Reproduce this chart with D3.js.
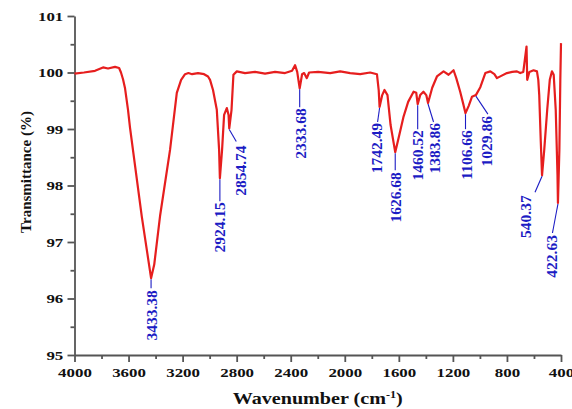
<!DOCTYPE html>
<html>
<head>
<meta charset="utf-8">
<script src="https://cdn.jsdelivr.net/npm/d3@7"></script>
<style>
  html, body { margin: 0; padding: 0; background: #ffffff; }
  svg { display: block; }
</style>
</head>
<body>
<div id="chart"></div>
<script>
// ---- Data ----
const wavenumber = [
  4000, 3930, 3848, 3789, 3752, 3700, 3670, 3656, 3641, 3626, 3604, 3589, 3502, 3456, 3433.38,
  3410, 3367, 3293, 3243, 3211, 3182, 3157, 3130, 3086, 3041, 3012, 2997, 2975, 2947, 2930,
  2924.15, 2908, 2893, 2873, 2860, 2854.74, 2838, 2824, 2799, 2738, 2664, 2590, 2516, 2442,
  2390, 2368, 2352, 2333.68, 2316, 2301, 2281, 2264, 2197, 2108, 2034, 1960, 1886, 1812, 1762,
  1749, 1742.49, 1723, 1706, 1684, 1661, 1626.68, 1597, 1565, 1531, 1491, 1471, 1460.52, 1442,
  1418, 1397, 1383.86, 1353, 1318, 1269, 1232, 1195, 1175, 1146, 1123, 1106.66, 1083, 1059,
  1029.86, 997, 960, 923, 893, 874, 842, 800, 761, 726, 702, 679, 655, 650, 634, 603, 578, 568,
  561, 550, 540.37, 524, 502, 483, 467, 454, 439, 426, 422.63, 412, 405, 400
];
const transmittance = [
  99.98, 100.0, 100.03, 100.09, 100.07, 100.1, 100.08, 100.0, 99.88, 99.72, 99.34, 99.02, 97.45, 96.72, 96.36,
  96.6, 97.46, 98.63, 99.64, 99.87, 99.97, 99.99, 99.97, 99.99, 99.97, 99.93, 99.87, 99.69, 99.34, 98.63,
  98.13, 98.63, 99.25, 99.37, 99.25, 99.01, 99.34, 99.96, 100.02, 99.99, 100.01, 99.98, 100.01, 99.99,
  100.03, 100.13, 100.01, 99.72, 99.97, 99.99, 99.9, 100.0, 100.01, 99.99, 100.02, 99.99, 99.97, 100.0, 99.97,
  99.69, 99.39, 99.6, 99.69, 99.6, 99.07, 98.59, 98.89, 99.22, 99.48, 99.66, 99.64, 99.44, 99.6,
  99.66, 99.6, 99.46, 99.73, 99.93, 100.02, 99.96, 100.04, 99.9, 99.66, 99.44, 99.28, 99.41, 99.57,
  99.6, 99.74, 99.99, 100.02, 99.97, 99.9, 99.94, 99.99, 100.01, 100.02, 99.99, 100.01, 100.46, 99.87, 100.01, 100.04, 100.02, 99.87,
  99.6, 98.8, 98.18, 98.63, 99.34, 99.87, 100.02, 99.96, 99.34, 98.19, 97.69, 98.63, 99.87, 100.52
];
const peakWavenumbers = [3433.38, 2924.15, 2854.74, 2333.68, 1742.49, 1626.68, 1460.52, 1383.86, 1106.66, 1029.86, 540.37, 422.63];
const peakLabels = ["3433.38", "2924.15", "2854.74", "2333.68", "1742.49", "1626.68", "1460.52", "1383.86", "1106.66", "1029.86", "540.37", "422.63"];
const xTicks = [4000, 3600, 3200, 2800, 2400, 2000, 1600, 1200, 800, 400];
const xMinorTicks = [3800, 3400, 3000, 2600, 2200, 1800, 1400, 1000, 600];
const yTicks = [95, 96, 97, 98, 99, 100, 101];
const yMinorTicks = [95.5, 96.5, 97.5, 98.5, 99.5, 100.5];

(function () {
// ---- Layout ----
const W = 572, H = 409;
const mLeft = 74.5, mRight = 561, mTop = 16, mBottom = 355;
const FONT = "'Liberation Serif', 'Times New Roman', serif";
const RED = "#e61e1e", BLUE = "#1c1cc4", AXIS = "#555";

// label leader / text offsets (pixels, relative to the peak point)
const labelLayout = [
  [0, 10, 0, 12], [0, 23, 0, 24], [7, 13, 11.5, 17], [0, 19, 1, 20],
  [-2, 15, -3, 16], [0, 18, 0, 20], [0, 25, 0, 26], [5.5, 19, 6.5, 20],
  [0, 16, 0.5, 17], [12, 19, 11, 21], [-7, 17, -17, 20], [-5.5, 30, -6, 32]
];

const svg = d3.select("#chart").append("svg").attr("width", W).attr("height", H);
svg.append("rect").attr("width", W).attr("height", H).attr("fill", "#fff");

const x = d3.scaleLinear().domain([4000, 400]).range([mLeft, mRight]);
const y = d3.scaleLinear().domain([95, 101]).range([mBottom, mTop]);

// minor ticks
const xMinor = svg.append("g").attr("transform", `translate(0,${mBottom})`)
  .call(d3.axisBottom(x).tickValues(xMinorTicks).tickSize(4).tickFormat(""));
xMinor.select(".domain").remove();
const yMinor = svg.append("g").attr("transform", `translate(${mLeft},0)`)
  .call(d3.axisLeft(y).tickValues(yMinorTicks).tickSize(4).tickFormat(""));
yMinor.select(".domain").remove();

// major axes
const xAxis = svg.append("g").attr("transform", `translate(0,${mBottom})`)
  .call(d3.axisBottom(x).tickValues(xTicks).tickSize(7).tickSizeOuter(0).tickPadding(6).tickFormat(d3.format("d")));
const yAxis = svg.append("g").attr("transform", `translate(${mLeft},0)`)
  .call(d3.axisLeft(y).tickValues(yTicks).tickSize(7).tickSizeOuter(0).tickFormat(d3.format("d")));

[xAxis, yAxis, xMinor, yMinor].forEach(g => {
  g.selectAll("path, line").attr("stroke", AXIS).attr("stroke-width", 1.8);
});
const sx = 1.3;
xAxis.selectAll("text").attr("font-family", FONT).attr("font-weight", "bold")
  .attr("font-size", 13).attr("fill", "#111").attr("transform", `scale(${sx},1)`);
yAxis.selectAll("text").attr("font-family", FONT).attr("font-weight", "bold")
  .attr("font-size", 13).attr("fill", "#111").attr("x", -11.2 / sx).attr("transform", `scale(${sx},1)`);

// spectrum line
const pts = wavenumber.map((w, i) => [w, transmittance[i]]);
svg.append("path").datum(pts)
  .attr("d", d3.line().x(d => x(d[0])).y(d => y(d[1])))
  .attr("fill", "none").attr("stroke", RED).attr("stroke-width", 2.2).attr("stroke-linejoin", "round");

// peak labels
peakWavenumbers.forEach((w, i) => {
  const v = transmittance[wavenumber.indexOf(w)];
  const px = x(w), py = y(v);
  const [ex, ey, tx, ty] = labelLayout[i];
  svg.append("line")
    .attr("x1", px).attr("y1", py + 1).attr("x2", px + ex).attr("y2", py + ey)
    .attr("stroke", BLUE).attr("stroke-width", 1.1);
  svg.append("text")
    .attr("transform", `translate(${px + tx},${py + ty}) rotate(-90)`)
    .attr("text-anchor", "end").attr("dominant-baseline", "central")
    .attr("font-family", FONT).attr("font-weight", "bold").attr("font-size", 15.5)
    .attr("fill", BLUE).text(peakLabels[i]);
});

// axis titles
const xt = svg.append("text")
  .attr("transform", `translate(${(mLeft + mRight) / 2},404) scale(1.22,1)`)
  .attr("text-anchor", "middle").attr("font-family", FONT).attr("font-weight", "bold")
  .attr("font-size", 16.5).attr("fill", "#111");
xt.append("tspan").text("Wavenumber (cm");
xt.append("tspan").attr("font-size", 10).attr("dy", -6).text("-1");
xt.append("tspan").attr("dy", 6).text(")");

svg.append("text")
  .attr("transform", `translate(31,172) rotate(-90)`)
  .attr("text-anchor", "middle").attr("font-family", FONT).attr("font-weight", "bold")
  .attr("font-size", 15).attr("fill", "#111").text("Transmittance (%)");
})();
</script>
</body>
</html>
